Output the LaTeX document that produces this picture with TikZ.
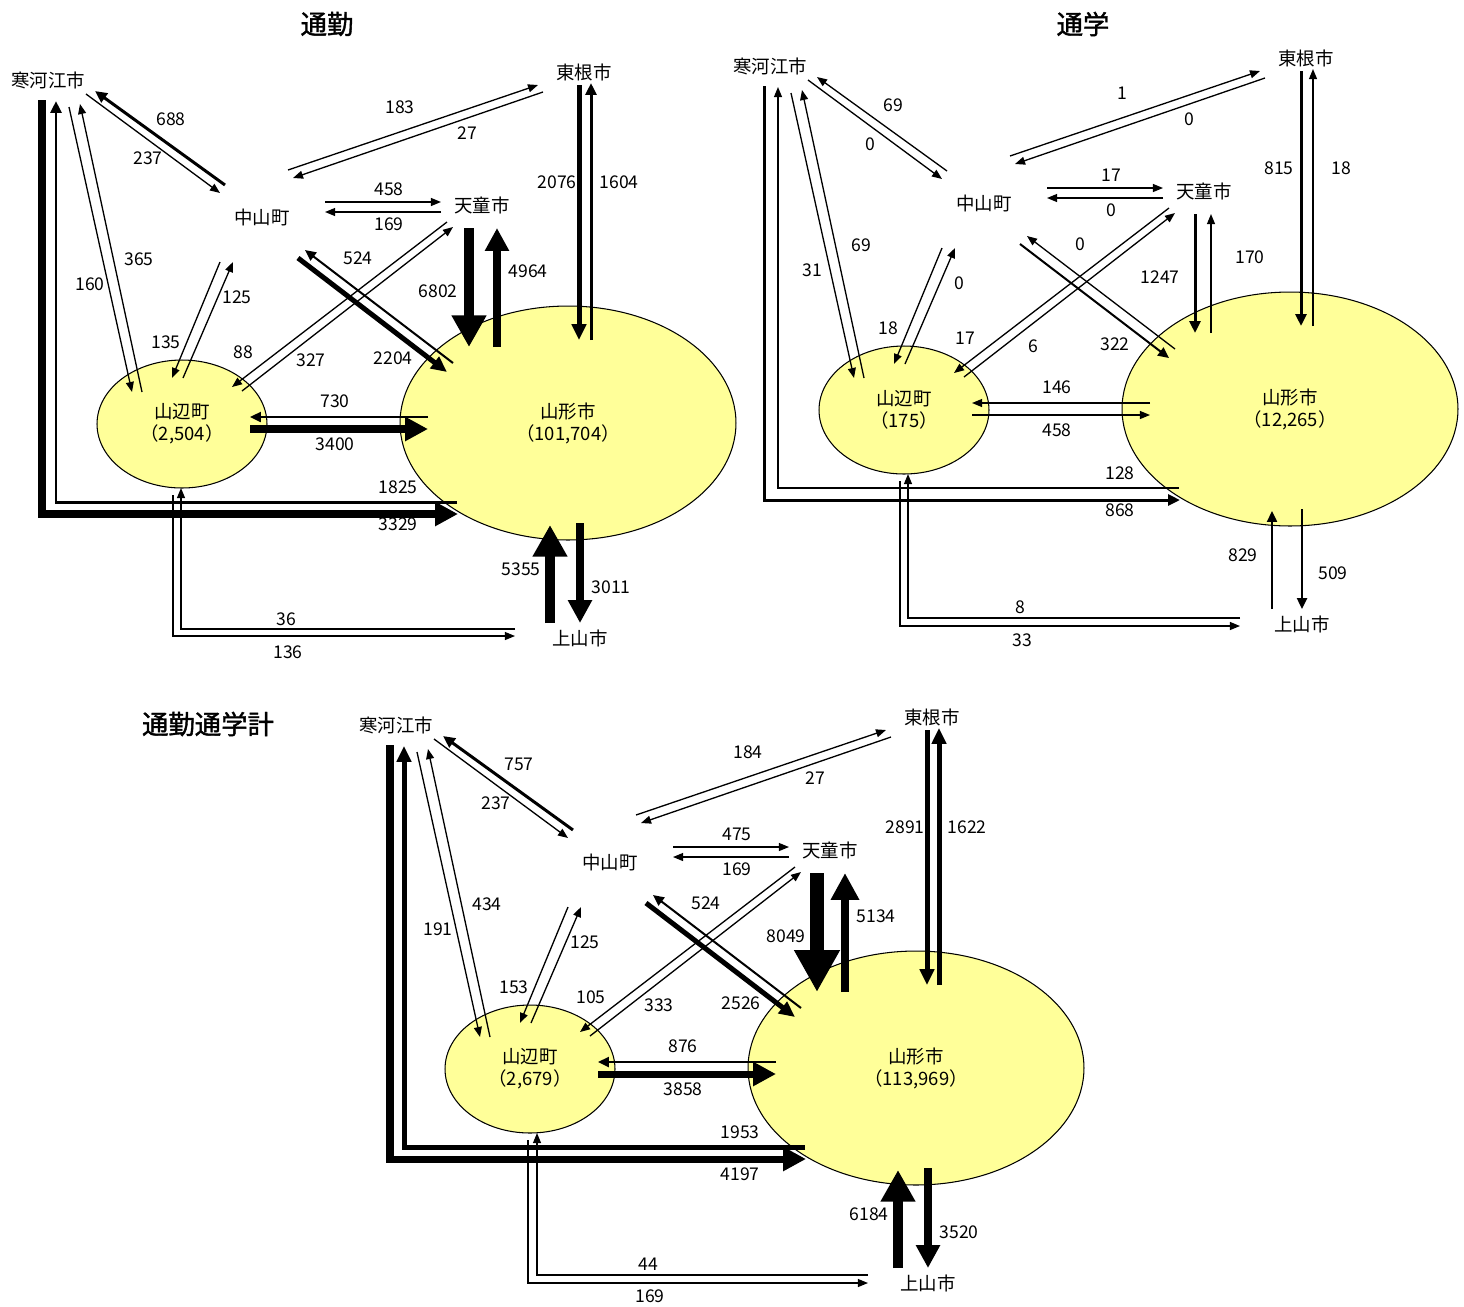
\documentclass[tikz,border=0pt]{standalone}
\usepackage{fontspec}
\setmainfont{Noto Sans CJK JP}
\newfontfamily\titlefont{Noto Sans CJK JP}[FakeBold=1.5]
\usepackage{tikz}
\usetikzlibrary{arrows.meta,shapes.geometric}
\definecolor{townfill}{HTML}{FFFF99}
\tikzset{
  city/.style={inner sep=0pt,font=\fontsize{10.5}{12}\selectfont},
  num/.style={inner sep=0pt,font=\fontsize{10}{12}\selectfont},
  title/.style={inner sep=0pt,font=\titlefont\fontsize{15}{18}\selectfont},
  town/.style={draw,ellipse,fill=townfill,line width=0.6pt,inner sep=0pt,align=center,font=\fontsize{10.5}{12.5}\selectfont},
  w1/.style={line width=0.75pt,-{Triangle[length=5.7pt,width=4.5pt]}},
  w2/.style={line width=1.15pt,-{Triangle[length=6.2pt,width=5.7pt]}},
  w3/.style={line width=1.7pt,-{Triangle[length=6.8pt,width=6.2pt]}},
  w4/.style={line width=2.85pt,-{Triangle[length=9pt,width=8pt]}},
  w5/.style={line width=4pt,-{Triangle[length=13pt,width=13pt]}},
  w6/.style={line width=5.1pt,-{Triangle[length=15.3pt,width=15.3pt]}},
  w7/.style={line width=6.2pt,-{Triangle[length=18pt,width=18.7pt]}},
  w8/.style={line width=7.9pt,-{Triangle[length=23.8pt,width=24.4pt]}},
}
\newcommand{\places}[2]{%
  \node[town,minimum width=3.4cm,minimum height=2.56cm] (yb) at (182,424) {山辺町\\#1};
  \node[town,minimum width=6.72cm,minimum height=4.68cm] (ym) at (568,423) {山形市\\#2};
  \node[city] (sg) at (48,80) {寒河江市};
  \node[city] (nk) at (262,217) {中山町};
  \node[city] (td) at (482,205) {天童市};
  \node[city] (hg) at (584,72) {東根市};
  \node[city] (km) at (580,638) {上山市};
  \coordinate (A1s) at (225,185); \coordinate (A1e) at (95,91);   \coordinate (A1l) at (171,119);
  \coordinate (A2s) at (86,94);   \coordinate (A2e) at (220,193); \coordinate (A2l) at (148,158);
  \coordinate (B1s) at (142,392); \coordinate (B1e) at (80,104);  \coordinate (B1l) at (139,259);
  \coordinate (B2s) at (69,107);  \coordinate (B2e) at (132,392); \coordinate (B2l) at (90,284);
  \coordinate (C1s) at (42,100);  \coordinate (C1e) at (458,514); \coordinate (C1l) at (398,524);
  \coordinate (C2s) at (457,502); \coordinate (C2e) at (56,101);  \coordinate (C2l) at (398,487);
  \coordinate (D1s) at (288,170); \coordinate (D1e) at (538,85);  \coordinate (D1l) at (400,107);
  \coordinate (D2s) at (543,92);  \coordinate (D2e) at (293,178); \coordinate (D2l) at (467,133);
  \coordinate (E1s) at (325,202); \coordinate (E1e) at (441,202); \coordinate (E1l) at (389,189);
  \coordinate (E2s) at (441,212); \coordinate (E2e) at (325,212); \coordinate (E2l) at (389,224);
  \coordinate (F1s) at (298,258); \coordinate (F1e) at (447,372); \coordinate (F1l) at (393,358);
  \coordinate (F2s) at (453,363); \coordinate (F2e) at (305,250); \coordinate (F2l) at (358,258);
  \coordinate (G1s) at (447,222); \coordinate (G1e) at (232,387); \coordinate (G1l) at (243,352);
  \coordinate (G2s) at (242,391); \coordinate (G2e) at (453,227); \coordinate (G2l) at (311,360);
  \coordinate (H1s) at (183,378); \coordinate (H1e) at (233,262); \coordinate (H1l) at (237,297);
  \coordinate (H2s) at (220,262); \coordinate (H2e) at (172,378); \coordinate (H2l) at (166,342);
  \coordinate (I1s) at (469,228); \coordinate (I1e) at (469,347); \coordinate (I1l) at (438,291);
  \coordinate (I2s) at (497,347); \coordinate (I2e) at (497,228); \coordinate (I2l) at (528,271);
  \coordinate (J1s) at (579,85);  \coordinate (J1e) at (579,340); \coordinate (J1l) at (557,182);
  \coordinate (J2s) at (591,340); \coordinate (J2e) at (591,83);  \coordinate (J2l) at (619,182);
  \coordinate (K1s) at (428,417); \coordinate (K1e) at (250,417); \coordinate (K1l) at (335,401);
  \coordinate (K2s) at (250,429); \coordinate (K2e) at (428,429); \coordinate (K2l) at (335,444);
  \coordinate (L1s) at (515,629); \coordinate (L1e) at (181,488); \coordinate (L1l) at (286,619);
  \coordinate (L2s) at (173,495); \coordinate (L2e) at (515,636); \coordinate (L2l) at (288,652);
  \coordinate (M1s) at (550,623); \coordinate (M1e) at (550,525); \coordinate (M1l) at (521,569);
  \coordinate (M2s) at (580,523); \coordinate (M2e) at (580,623); \coordinate (M2l) at (611,587);
}
\newcommand{\flow}[4]{\draw[#1] (#2s) #3 (#2e); \node[num] (#2n) at (#2l) {#4};}

\begin{document}
\begin{tikzpicture}[x=0.02cm,y=-0.02cm]
\useasboundingbox (0,0) rectangle (1464,1306);
\node[title] (t1) at (327,24) {通勤};
\node[title] (t2) at (1083,24) {通学};
\node[title] (t3) at (208,724) {通勤通学計};

\begin{scope}[name prefix=a-]
\places{（2,504）}{（101,704）}
\flow{w3}{A1}{--}{688}
\flow{w1}{A2}{--}{237}
\flow{w1}{B1}{--}{365}
\flow{w1}{B2}{--}{160}
\flow{w5}{C1}{|-}{3329}
\flow{w3}{C2}{-|}{1825}
\flow{w1}{D1}{--}{183}
\flow{w1}{D2}{--}{27}
\flow{w1}{E1}{--}{458}
\flow{w1}{E2}{--}{169}
\flow{w4}{F1}{--}{2204}
\flow{w2}{F2}{--}{524}
\flow{w1}{G1}{--}{88}
\flow{w1}{G2}{--}{327}
\flow{w1}{H1}{--}{125}
\flow{w1}{H2}{--}{135}
\flow{w7}{I1}{--}{6802}
\flow{w5}{I2}{--}{4964}
\flow{w4}{J1}{--}{2076}
\flow{w3}{J2}{--}{1604}
\flow{w2}{K1}{--}{730}
\flow{w5}{K2}{--}{3400}
\flow{w1}{L1}{-|}{36}
\flow{w1}{L2}{|-}{136}
\flow{w7}{M1}{--}{5355}
\flow{w5}{M2}{--}{3011}
\end{scope}

\begin{scope}[shift={(722,-14)},name prefix=b-]
\places{（175）}{（12,265）}
\coordinate (I1s) at (473,228); \coordinate (I1e) at (473,347);
\coordinate (I2s) at (489,347); \coordinate (I2e) at (489,228);
\coordinate (L1s) at (518,632); \coordinate (L1e) at (186,488); \coordinate (L1l) at (298,621);
\coordinate (L2s) at (178,495); \coordinate (L2e) at (518,640); \coordinate (L2l) at (300,654);
\flow{w1}{A1}{--}{69}
\flow{w1}{A2}{--}{0}
\flow{w1}{B1}{--}{69}
\flow{w1}{B2}{--}{31}
\flow{w3}{C1}{|-}{868}
\flow{w1}{C2}{-|}{128}
\flow{w1}{D1}{--}{1}
\flow{w1}{D2}{--}{0}
\flow{w1}{E1}{--}{17}
\flow{w1}{E2}{--}{0}
\flow{w2}{F1}{--}{322}
\flow{w1}{F2}{--}{0}
\flow{w1}{G1}{--}{17}
\flow{w1}{G2}{--}{6}
\flow{w1}{H1}{--}{0}
\flow{w1}{H2}{--}{18}
\flow{w3}{I1}{--}{1247}
\flow{w1}{I2}{--}{170}
\flow{w3}{J1}{--}{815}
\flow{w1}{J2}{--}{18}
\flow{w1}{K1}{--}{146}
\flow{w1}{K2}{--}{458}
\flow{w1}{L1}{-|}{8}
\flow{w1}{L2}{|-}{33}
\flow{w2}{M1}{--}{829}
\flow{w2}{M2}{--}{509}
\end{scope}

\begin{scope}[shift={(348,645)},name prefix=c-]
\places{（2,679）}{（113,969）}
\coordinate (C1l) at (392,529); \coordinate (C2l) at (392,487);
\coordinate (L1s) at (520,630); \coordinate (L1e) at (189,488); \coordinate (L1l) at (300,619);
\coordinate (L2s) at (180,495); \coordinate (L2e) at (520,638); \coordinate (L2l) at (302,651);
\flow{w3}{A1}{--}{757}
\flow{w1}{A2}{--}{237}
\flow{w1}{B1}{--}{434}
\flow{w1}{B2}{--}{191}
\flow{w5}{C1}{|-}{4197}
\flow{w4}{C2}{-|}{1953}
\flow{w1}{D1}{--}{184}
\flow{w1}{D2}{--}{27}
\flow{w1}{E1}{--}{475}
\flow{w1}{E2}{--}{169}
\flow{w4}{F1}{--}{2526}
\flow{w2}{F2}{--}{524}
\flow{w1}{G1}{--}{105}
\flow{w1}{G2}{--}{333}
\flow{w1}{H1}{--}{125}
\flow{w1}{H2}{--}{153}
\flow{w8}{I1}{--}{8049}
\flow{w6}{I2}{--}{5134}
\flow{w4}{J1}{--}{2891}
\flow{w4}{J2}{--}{1622}
\flow{w2}{K1}{--}{876}
\flow{w5}{K2}{--}{3858}
\flow{w1}{L1}{-|}{44}
\flow{w1}{L2}{|-}{169}
\flow{w7}{M1}{--}{6184}
\flow{w5}{M2}{--}{3520}
\end{scope}
\end{tikzpicture}
\end{document}
